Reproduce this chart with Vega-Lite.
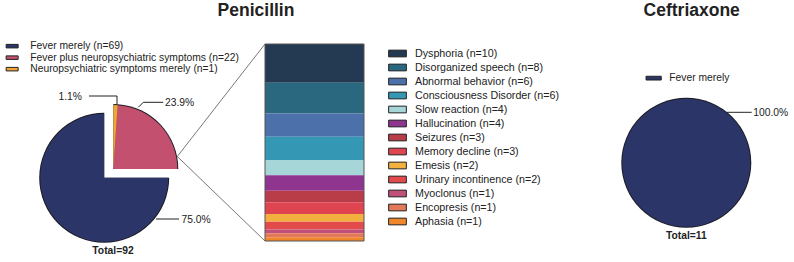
{
  "$schema": "https://vega.github.io/schema/vega-lite/v6.json",
  "width": 794,
  "height": 262,
  "padding": 0,
  "autosize": {"type": "none"},
  "background": "white",
  "config": {
    "view": {"stroke": null},
    "axis": {"disable": true},
    "font": "Liberation Sans",
    "text": {"font": "Liberation Sans", "color": "#222222"}
  },
  "data": {"values": [{}]},
  "datasets": {
    "penicillin": [
      {"label": "Fever merely (n=69)", "n": 69},
      {"label": "Fever plus neuropsychiatric symptoms (n=22)", "n": 22},
      {"label": "Neuropsychiatric symptoms merely (n=1)", "n": 1}
    ],
    "symptoms": [
      {"label": "Dysphoria (n=10)", "n": 10},
      {"label": "Disorganized speech (n=8)", "n": 8},
      {"label": "Abnormal behavior (n=6)", "n": 6},
      {"label": "Consciousness Disorder (n=6)", "n": 6},
      {"label": "Slow reaction (n=4)", "n": 4},
      {"label": "Hallucination (n=4)", "n": 4},
      {"label": "Seizures (n=3)", "n": 3},
      {"label": "Memory decline (n=3)", "n": 3},
      {"label": "Emesis (n=2)", "n": 2},
      {"label": "Urinary incontinence (n=2)", "n": 2},
      {"label": "Myoclonus (n=1)", "n": 1},
      {"label": "Encopresis (n=1)", "n": 1},
      {"label": "Aphasia (n=1)", "n": 1}
    ],
    "ceftriaxone": [
      {"label": "Fever merely", "n": 11}
    ]
  },
  "resolve": {
    "scale": {"color": "independent", "y": "independent", "theta": "independent"},
    "legend": {"color": "independent"}
  },
  "layer": [
    {
      "layer": [
        {
          "data": {"name": "penicillin"},
          "mark": {"type": "arc", "outerRadius": 65, "fill": "#1c1c24"},
          "encoding": {
            "theta": {"field": "n", "type": "quantitative", "stack": true},
            "order": {"field": "label", "sort": "descending"},
            "detail": {"field": "label"},
            "x": {"datum": 104.2, "type": "quantitative", "scale": {"domain": [0, 794], "nice": false, "zero": false}},
            "y": {"datum": 177.8, "type": "quantitative", "scale": {"domain": [0, 262], "nice": false, "zero": false, "reverse": true}},
            "opacity": {"condition": {"test": "datum.label === 'Fever merely (n=69)'", "value": 1}, "value": 0}
          }
        },
        {
          "data": {"name": "penicillin"},
          "mark": {"type": "arc", "outerRadius": 64},
          "encoding": {
            "theta": {"field": "n", "type": "quantitative", "stack": true},
            "order": {"field": "label", "sort": "descending"},
            "color": {
              "field": "label", "type": "nominal",
              "scale": {
                "domain": ["Fever merely (n=69)", "Fever plus neuropsychiatric symptoms (n=22)", "Neuropsychiatric symptoms merely (n=1)"],
                "range": ["#2c3568", "#c4506f", "#f2a534"]
              },
              "legend": {
                "orient": "none", "legendX": 7, "legendY": 41, "title": null,
                "symbolType": "M-1.5,-0.44H1.5V0.44H-1.5Z", "symbolSize": 64,
                "symbolStrokeColor": "#222222", "symbolStrokeWidth": 1, "symbolOpacity": 1,
                "labelFont": "Liberation Sans", "labelFontSize": 10.3, "labelColor": "#222222",
                "labelOffset": 13, "rowPadding": 0.5, "labelLimit": 400
              }
            },
            "x": {"datum": 104.2, "type": "quantitative"},
            "y": {"datum": 177.8, "type": "quantitative"},
            "opacity": {"condition": {"test": "datum.label === 'Fever merely (n=69)'", "value": 1}, "value": 0}
          }
        },
        {
          "data": {"name": "penicillin"},
          "mark": {"type": "arc", "outerRadius": 65, "fill": "#1c1c24"},
          "encoding": {
            "theta": {"field": "n", "type": "quantitative", "stack": true},
            "order": {"field": "label", "sort": "descending"},
            "detail": {"field": "label"},
            "x": {"datum": 113.3, "type": "quantitative"},
            "y": {"datum": 169, "type": "quantitative"},
            "opacity": {"condition": {"test": "datum.label === 'Fever merely (n=69)'", "value": 0}, "value": 1}
          }
        },
        {
          "data": {"name": "penicillin"},
          "mark": {"type": "arc", "outerRadius": 64},
          "encoding": {
            "theta": {"field": "n", "type": "quantitative", "stack": true},
            "order": {"field": "label", "sort": "descending"},
            "color": {
              "field": "label", "type": "nominal",
              "legend": {
                "orient": "none", "legendX": 7, "legendY": 41, "title": null,
                "symbolType": "M-1.5,-0.44H1.5V0.44H-1.5Z", "symbolSize": 64,
                "symbolStrokeColor": "#222222", "symbolStrokeWidth": 1, "symbolOpacity": 1,
                "labelFont": "Liberation Sans", "labelFontSize": 10.3, "labelColor": "#222222",
                "labelOffset": 13, "rowPadding": 0.5, "labelLimit": 400
              }
            },
            "x": {"datum": 113.3, "type": "quantitative"},
            "y": {"datum": 169, "type": "quantitative"},
            "opacity": {"condition": {"test": "datum.label === 'Fever merely (n=69)'", "value": 0}, "value": 1}
          }
        },
        {
          "mark": {"type": "text", "text": "Penicillin", "fontSize": 17.5, "fontWeight": "bold", "align": "center", "baseline": "alphabetic"},
          "encoding": {"x": {"datum": 256, "type": "quantitative"}, "y": {"datum": 16, "type": "quantitative"}}
        },
        {
          "mark": {"type": "text", "text": "1.1%", "fontSize": 10.3, "align": "right", "baseline": "middle"},
          "encoding": {"x": {"datum": 82, "type": "quantitative"}, "y": {"datum": 96.5, "type": "quantitative"}}
        },
        {
          "mark": {"type": "text", "text": "23.9%", "fontSize": 10.3, "align": "left", "baseline": "middle"},
          "encoding": {"x": {"datum": 165, "type": "quantitative"}, "y": {"datum": 103, "type": "quantitative"}}
        },
        {
          "mark": {"type": "text", "text": "75.0%", "fontSize": 10.3, "align": "left", "baseline": "middle"},
          "encoding": {"x": {"datum": 181.5, "type": "quantitative"}, "y": {"datum": 219.5, "type": "quantitative"}}
        },
        {
          "mark": {"type": "text", "text": "Total=92", "fontSize": 10.3, "fontWeight": "bold", "align": "center", "baseline": "middle"},
          "encoding": {"x": {"datum": 113, "type": "quantitative"}, "y": {"datum": 251, "type": "quantitative"}}
        },
        {
          "mark": {"type": "rule", "color": "#222222", "strokeWidth": 1},
          "encoding": {"x": {"datum": 89, "type": "quantitative"}, "x2": {"datum": 117}, "y": {"datum": 96, "type": "quantitative"}, "y2": {"datum": 96}}
        },
        {
          "mark": {"type": "rule", "color": "#222222", "strokeWidth": 1},
          "encoding": {"x": {"datum": 117, "type": "quantitative"}, "x2": {"datum": 117}, "y": {"datum": 96, "type": "quantitative"}, "y2": {"datum": 105}}
        },
        {
          "mark": {"type": "rule", "color": "#222222", "strokeWidth": 1},
          "encoding": {"x": {"datum": 138.3, "type": "quantitative"}, "x2": {"datum": 143.3}, "y": {"datum": 107.3, "type": "quantitative"}, "y2": {"datum": 102.3}}
        },
        {
          "mark": {"type": "rule", "color": "#222222", "strokeWidth": 1},
          "encoding": {"x": {"datum": 143.3, "type": "quantitative"}, "x2": {"datum": 163.3}, "y": {"datum": 102.3, "type": "quantitative"}, "y2": {"datum": 102.3}}
        },
        {
          "mark": {"type": "rule", "color": "#222222", "strokeWidth": 1},
          "encoding": {"x": {"datum": 156, "type": "quantitative"}, "x2": {"datum": 179}, "y": {"datum": 219, "type": "quantitative"}, "y2": {"datum": 219}}
        },
        {
          "mark": {"type": "rule", "color": "#555555", "strokeWidth": 0.8},
          "encoding": {"x": {"datum": 177.3, "type": "quantitative"}, "x2": {"datum": 265}, "y": {"datum": 156.5, "type": "quantitative"}, "y2": {"datum": 44}}
        },
        {
          "mark": {"type": "rule", "color": "#555555", "strokeWidth": 0.8},
          "encoding": {"x": {"datum": 177.3, "type": "quantitative"}, "x2": {"datum": 265}, "y": {"datum": 156.5, "type": "quantitative"}, "y2": {"datum": 241}}
        }
      ]
    },
    {
      "layer": [
        {
          "data": {"name": "symptoms"},
          "transform": [
            {"window": [{"op": "row_number", "as": "idx"}]},
            {"stack": "n", "groupby": [], "sort": [{"field": "idx", "order": "ascending"}], "as": ["n0", "n1"]}
          ],
          "mark": {"type": "rect"},
          "encoding": {
            "x": {"datum": 265, "type": "quantitative"},
            "x2": {"datum": 364},
            "y": {"field": "n0", "type": "quantitative", "scale": {"domain": [0, 51], "range": [44, 241], "nice": false, "zero": false}},
            "y2": {"field": "n1"},
            "color": {
              "field": "label", "type": "nominal",
              "scale": {
                "domain": ["Dysphoria (n=10)", "Disorganized speech (n=8)", "Abnormal behavior (n=6)", "Consciousness Disorder (n=6)", "Slow reaction (n=4)", "Hallucination (n=4)", "Seizures (n=3)", "Memory decline (n=3)", "Emesis (n=2)", "Urinary incontinence (n=2)", "Myoclonus (n=1)", "Encopresis (n=1)", "Aphasia (n=1)"],
                "range": ["#243a52", "#2a6880", "#4c70aa", "#3497b3", "#a6d6d8", "#8f3590", "#b83d48", "#df4550", "#f3b03e", "#e24a4c", "#c0507a", "#e3795a", "#f0862c"]
              },
              "legend": {
                "orient": "none", "legendX": 392, "legendY": 48, "title": null,
                "symbolType": "M-1.77,-0.67H1.77V0.67H-1.77Z", "symbolSize": 100,
                "symbolStrokeColor": "#222222", "symbolStrokeWidth": 1, "symbolOpacity": 1,
                "labelFont": "Liberation Sans", "labelFontSize": 10.7, "labelColor": "#222222",
                "labelOffset": 12, "rowPadding": 2, "labelLimit": 400
              }
            }
          }
        },
        {
          "mark": {"type": "rect", "fill": null, "stroke": "#555555", "strokeWidth": 1},
          "encoding": {
            "x": {"datum": 265, "type": "quantitative"},
            "x2": {"datum": 364},
            "y": {"datum": 0, "type": "quantitative"},
            "y2": {"datum": 51}
          }
        }
      ]
    },
    {
      "layer": [
        {
          "data": {"name": "ceftriaxone"},
          "mark": {"type": "arc", "outerRadius": 65, "fill": "#1c1c24"},
          "encoding": {
            "theta": {"field": "n", "type": "quantitative", "stack": true},
            "detail": {"field": "label"},
            "x": {"datum": 686.3, "type": "quantitative"},
            "y": {"datum": 162.8, "type": "quantitative", "scale": {"domain": [0, 262], "nice": false, "zero": false, "reverse": true}}
          }
        },
        {
          "data": {"name": "ceftriaxone"},
          "mark": {"type": "arc", "outerRadius": 64},
          "encoding": {
            "theta": {"field": "n", "type": "quantitative", "stack": true},
            "color": {
              "field": "label", "type": "nominal",
              "scale": {"domain": ["Fever merely"], "range": ["#2c3568"]},
              "legend": {
                "orient": "none", "legendX": 648.5, "legendY": 73, "title": null,
                "symbolType": "M-1.9,-0.47H1.9V0.47H-1.9Z", "symbolSize": 64,
                "symbolStrokeColor": "#222222", "symbolStrokeWidth": 1, "symbolOpacity": 1,
                "labelFont": "Liberation Sans", "labelFontSize": 10.3, "labelColor": "#222222",
                "labelOffset": 10.5, "labelLimit": 400
              }
            },
            "x": {"datum": 686.3, "type": "quantitative"},
            "y": {"datum": 162.8, "type": "quantitative"}
          }
        },
        {
          "mark": {"type": "text", "text": "Ceftriaxone", "fontSize": 17.5, "fontWeight": "bold", "align": "center", "baseline": "alphabetic"},
          "encoding": {"x": {"datum": 691.7, "type": "quantitative"}, "y": {"datum": 16, "type": "quantitative"}}
        },
        {
          "mark": {"type": "text", "text": "100.0%", "fontSize": 10.3, "align": "left", "baseline": "middle"},
          "encoding": {"x": {"datum": 753.3, "type": "quantitative"}, "y": {"datum": 112.5, "type": "quantitative"}}
        },
        {
          "mark": {"type": "text", "text": "Total=11", "fontSize": 10.3, "fontWeight": "bold", "align": "center", "baseline": "middle"},
          "encoding": {"x": {"datum": 686.3, "type": "quantitative"}, "y": {"datum": 235.5, "type": "quantitative"}}
        },
        {
          "mark": {"type": "rule", "color": "#222222", "strokeWidth": 1},
          "encoding": {"x": {"datum": 727, "type": "quantitative"}, "x2": {"datum": 751.7}, "y": {"datum": 112.3, "type": "quantitative"}, "y2": {"datum": 112.3}}
        }
      ]
    }
  ]
}
